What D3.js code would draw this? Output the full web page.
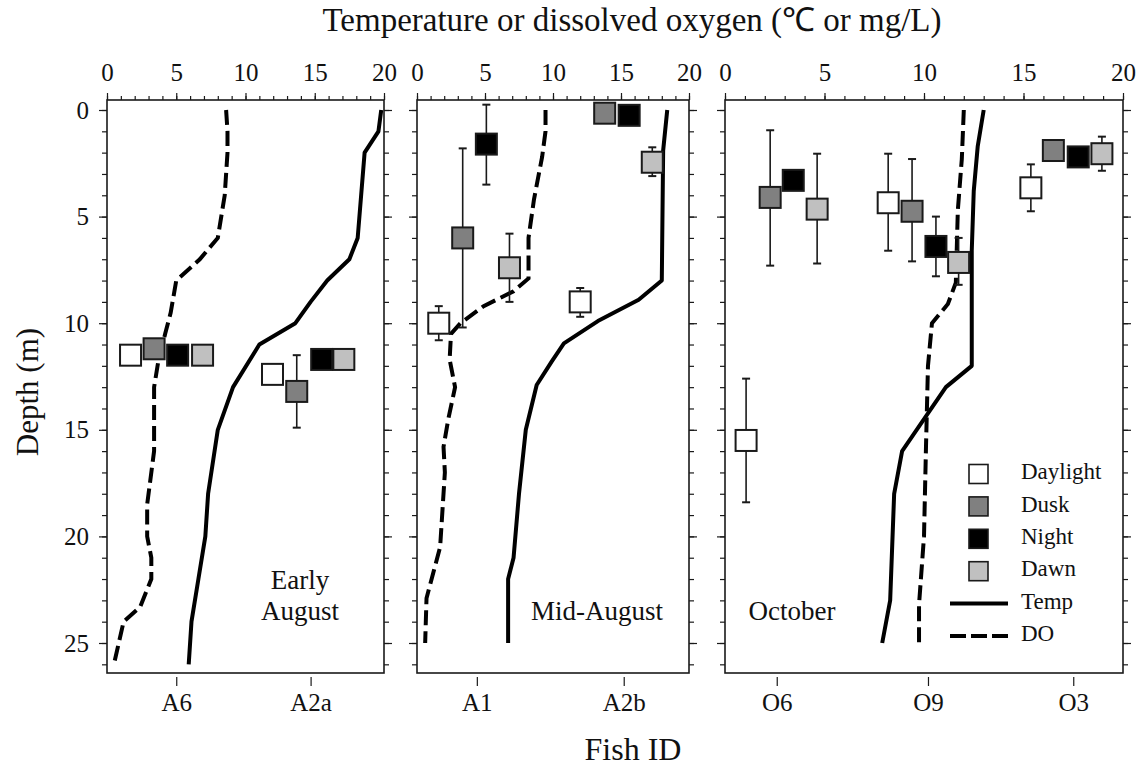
<!DOCTYPE html>
<html>
<head>
<meta charset="utf-8">
<script src="https://cdn.jsdelivr.net/npm/d3@7/dist/d3.min.js"></script>
<style>
  html, body { margin: 0; padding: 0; background: #ffffff; }
</style>
</head>
<body>
<svg id="chart" width="1141" height="770" font-family="Liberation Serif"></svg>
<script>
// ---- Data -------------------------------------------------------------
const tempTicks = [0, 5, 10, 15, 20];
const depthTicks = [0, 5, 10, 15, 20, 25];
const periods = ["Daylight", "Dusk", "Night", "Dawn"];
const periodFill = ["#ffffff", "#808080", "#000000", "#c0c0c0"];

const panelNames = [["Early", "August"], ["Mid-August"], ["October"]];

// fish IDs per sampling period and where each sits on the value axis
const fishEarly = ["A6", "A2a"];
const fishMid = ["A1", "A2b"];
const fishOct = ["O6", "O9", "O3"];
const fishPosEarly = [5.0, 14.7];
const fishPosMid = [4.4, 15.2];
const fishPosOct = [2.6, 10.2, 17.5];

// profiles: [value, depth]
const tempEarly = [[19.8,0],[19.6,1],[18.6,2],[18.1,6],[17.5,7],[15.9,8],[14.7,9],[13.6,10],[11.0,11],[9.1,13],[8.0,15],[7.3,18],[7.1,20],[6.6,22],[6.1,24],[5.9,26]];
const doEarly = [[8.6,0],[8.7,1],[8.7,2],[8.5,4],[8.0,6],[6.7,7],[5.0,8],[4.6,9.5],[4.2,10.5],[3.7,11.8],[3.4,13],[3.4,16],[2.9,18.5],[2.9,20],[3.2,21],[3.2,22],[2.4,23.3],[1.2,24],[0.5,26]];
const tempMid = [[18.4,0],[18.1,1.9],[18.0,8],[16.3,8.9],[13.3,9.9],[10.8,10.95],[9.9,11.8],[8.8,12.9],[8.0,15],[7.5,18],[7.1,21],[6.7,22],[6.7,25]];
const doMid = [[9.45,0],[9.45,1],[9.2,2.2],[8.6,4.2],[8.2,6],[8.2,7.9],[7.1,8.5],[4.9,9.2],[3.2,10],[2.5,10.5],[2.4,11.7],[2.8,13],[2.3,14.5],[1.95,15.8],[2.05,17],[1.7,20.5],[0.7,22.9],[0.6,25]];
const tempOct = [[13.0,0],[12.7,1.7],[12.5,3.8],[12.4,6.6],[12.4,12],[11.1,13],[8.9,16],[8.5,18],[8.3,23],[7.9,25]];
const doOct = [[12.0,0],[11.9,2.3],[11.7,4.7],[11.6,8.1],[11.2,9.1],[10.4,10],[10.2,12],[10.1,15.8],[10.0,20],[9.75,23.2],[9.75,25]];

// fish depth observations: [period index, x value, mean depth, lower, upper] (null = no bar)
const obsEarly = [
  [0, 1.7, 11.5, null, null],
  [1, 3.4, 11.2, null, null],
  [2, 5.1, 11.5, 11.2, 11.8],
  [3, 6.9, 11.5, null, null],
  [0, 11.95, 12.4, null, null],
  [1, 13.7, 13.2, 11.5, 14.9],
  [2, 15.5, 11.7, null, null],
  [3, 17.1, 11.7, null, null]
];
const obsMid = [
  [0, 1.6, 10.0, 9.2, 10.8],
  [1, 3.36, 6.0, 1.8, 10.2],
  [2, 5.1, 1.6, -0.25, 3.5],
  [3, 6.8, 7.4, 5.8, 9.0],
  [0, 12.0, 9.0, 8.35, 9.7],
  [1, 13.8, 0.15, null, null],
  [2, 15.6, 0.25, null, null],
  [3, 17.3, 2.45, 1.75, 3.1]
];
const obsOct = [
  [0, 1.06, 15.5, 12.6, 18.4],
  [1, 2.27, 4.1, 0.95, 7.3],
  [2, 3.43, 3.3, null, null],
  [3, 4.63, 4.65, 2.05, 7.2],
  [0, 8.2, 4.35, 2.05, 6.6],
  [1, 9.4, 4.75, 2.3, 7.1],
  [2, 10.6, 6.4, 5.0, 7.8],
  [3, 11.74, 7.15, 6.0, 8.2],
  [0, 15.37, 3.65, 2.55, 4.75],
  [1, 16.5, 1.9, null, null],
  [2, 17.75, 2.2, null, null],
  [3, 18.94, 2.05, 1.25, 2.85]
];

// ---- Layout -----------------------------------------------------------
const svg = d3.select("#chart");
const plotTop = 100, plotBottom = 673;
const y = d3.scaleLinear().domain([0, 25]).range([110, 643]);
const frames = [[107, 384], [417, 689], [725, 1123]];
const ink = "#1a1a1a";
const serif = "Liberation Serif";

const panels = [
  { fish: fishEarly, fishPos: fishPosEarly, temp: tempEarly, dox: doEarly, obs: obsEarly, name: panelNames[0] },
  { fish: fishMid, fishPos: fishPosMid, temp: tempMid, dox: doMid, obs: obsMid, name: panelNames[1] },
  { fish: fishOct, fishPos: fishPosOct, temp: tempOct, dox: doOct, obs: obsOct, name: panelNames[2] }
];
const nameAnchor = [[300, 583, 31], [597, 614, 0], [792, 614, 0]];

const line = x => d3.line().x(d => x(d[0])).y(d => y(d[1]));

function styleAxis(sel, size) {
  sel.attr("font-family", serif);
  sel.selectAll("g").attr("font-family", serif).attr("font-size", size);
  sel.selectAll("path").remove();
  sel.selectAll("line").attr("stroke", ink).attr("stroke-width", 1.2);
  sel.selectAll("text").attr("font-family", serif).attr("font-size", size).attr("fill", "#111");
}

panels.forEach((p, i) => {
  const [x0, x1] = frames[i];
  const x = d3.scaleLinear().domain([0, 20]).range([x0, x1]);
  const g = svg.append("g");

  // top value axis: minor ticks every unit, labelled every 5
  const axTop = g.append("g").attr("transform", `translate(0,${plotTop})`);
  axTop.append("g").call(d3.axisTop(x).tickValues(d3.range(0, 21)).tickSize(4).tickFormat(""));
  axTop.append("g").call(d3.axisTop(x).tickValues(tempTicks).tickSize(7).tickPadding(12).tickFormat(d3.format("d")));
  styleAxis(axTop, 25);

  // depth ticks on both sides
  const axL = g.append("g").attr("transform", `translate(${x0},0)`);
  axL.append("g").call(d3.axisLeft(y).tickValues(d3.range(0, 27)).tickSize(5).tickFormat(""));
  axL.append("g").call(d3.axisLeft(y).tickValues(depthTicks).tickSize(8).tickPadding(10)
    .tickFormat(i === 0 ? d3.format("d") : () => ""));
  styleAxis(axL, 25);

  const axR = g.append("g").attr("transform", `translate(${x1},0)`);
  axR.append("g").call(d3.axisRight(y).tickValues(d3.range(0, 27)).tickSize(5).tickFormat(""));
  axR.append("g").call(d3.axisRight(y).tickValues(depthTicks).tickSize(8).tickFormat(""));
  styleAxis(axR, 25);

  // bottom fish ID axis
  const fx = d3.scaleOrdinal().domain(p.fish).range(p.fish.map((f, k) => x(p.fishPos[k])));
  const axB = g.append("g").attr("transform", `translate(0,${plotBottom + 4})`);
  axB.append("g").call(d3.axisBottom(fx).tickSize(9).tickPadding(7));
  styleAxis(axB, 25);

  // frame
  g.append("rect").attr("x", x0).attr("y", plotTop).attr("width", x1 - x0).attr("height", plotBottom - plotTop)
    .attr("fill", "none").attr("stroke", ink).attr("stroke-width", 1.6);

  // profiles
  g.append("path").datum(p.temp).attr("d", line(x)).attr("fill", "none")
    .attr("stroke", "#000").attr("stroke-width", 4).attr("stroke-linejoin", "round");
  g.append("path").datum(p.dox).attr("d", line(x)).attr("fill", "none")
    .attr("stroke", "#000").attr("stroke-width", 4).attr("stroke-dasharray", "15,6");

  // error bars
  const bars = p.obs.filter(o => o[3] !== null);
  const eb = g.append("g").attr("stroke", ink).attr("stroke-width", 1.6);
  eb.selectAll(null).data(bars).join("line")
    .attr("x1", o => x(o[1])).attr("x2", o => x(o[1]))
    .attr("y1", o => y(o[3])).attr("y2", o => y(o[4]));
  [3, 4].forEach(k => {
    eb.selectAll(null).data(bars).join("line")
      .attr("x1", o => x(o[1]) - 4).attr("x2", o => x(o[1]) + 4)
      .attr("y1", o => y(o[k])).attr("y2", o => y(o[k]))
      .attr("stroke-width", 2);
  });

  // period squares
  const s = 21;
  g.selectAll(null).data(p.obs).join("rect")
    .attr("x", o => x(o[1]) - s / 2).attr("y", o => y(o[2]) - s / 2)
    .attr("width", s).attr("height", s)
    .attr("fill", o => periodFill[o[0]]).attr("stroke", ink).attr("stroke-width", 2);

  // period label
  const [lx, ly, dy] = nameAnchor[i];
  const t = g.append("text").attr("x", lx).attr("y", ly).attr("text-anchor", "middle")
    .attr("font-family", serif).attr("font-size", 27).attr("fill", "#111").attr("dominant-baseline", "middle");
  p.name.forEach((w, k) => t.append("tspan").attr("x", lx).attr("dy", k === 0 ? 0 : dy).text(w));
});

// legend
const lg = svg.append("g");
const legY = d3.scalePoint().domain(periods.concat(["Temp", "DO"])).range([474, 636]);
periods.forEach((name, k) => {
  lg.append("rect").attr("x", 969).attr("y", legY(name) - 9.5).attr("width", 19).attr("height", 19)
    .attr("fill", periodFill[k]).attr("stroke", ink).attr("stroke-width", 1.6);
});
lg.append("line").attr("x1", 950).attr("x2", 1008).attr("y1", legY("Temp")).attr("y2", legY("Temp"))
  .attr("stroke", "#000").attr("stroke-width", 4);
lg.append("line").attr("x1", 950).attr("x2", 1008).attr("y1", legY("DO")).attr("y2", legY("DO"))
  .attr("stroke", "#000").attr("stroke-width", 4).attr("stroke-dasharray", "16,5");
legY.domain().forEach(name => {
  lg.append("text").attr("x", 1021).attr("y", legY(name)).attr("dominant-baseline", "middle")
    .attr("font-family", serif).attr("font-size", 23).attr("fill", "#111").text(name);
});

// axis titles
svg.append("text").attr("x", 632).attr("y", 31).attr("text-anchor", "middle")
  .attr("font-family", serif).attr("font-size", 33).attr("fill", "#111")
  .text("Temperature or dissolved oxygen (℃ or mg/L)");
svg.append("text").attr("transform", "translate(38,392) rotate(-90)").attr("text-anchor", "middle")
  .attr("font-family", serif).attr("font-size", 31).attr("fill", "#111").text("Depth (m)");
svg.append("text").attr("x", 633).attr("y", 760).attr("text-anchor", "middle")
  .attr("font-family", serif).attr("font-size", 32).attr("fill", "#111").text("Fish ID");
</script>
</body>
</html>
